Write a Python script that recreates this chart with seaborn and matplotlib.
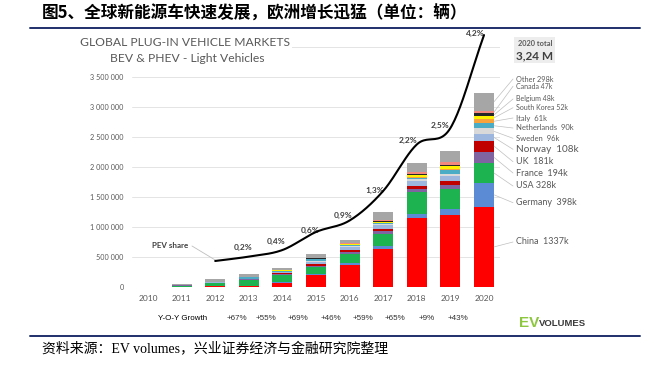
import numpy as np
import matplotlib
matplotlib.use('Agg')
import matplotlib.pyplot as plt
import seaborn as sns

# data (thousand vehicles), 2010 .. 2020
years = [str(y) for y in range(2010, 2021)]
countries = ['China', 'Germany', 'USA', 'France', 'UK', 'Norway', 'Sweden',
             'Netherlands', 'Italy', 'South Korea', 'Belgium', 'Canada', 'Other']
china = [1, 5, 10, 15, 72, 195, 370, 640, 1155, 1195, 1337]
germany = [1, 2, 3, 6, 13, 23, 25, 50, 70, 108, 398]
usa = [1, 18, 53, 97, 119, 116, 160, 200, 360, 327, 328]
france = [0, 3, 6, 9, 15, 22, 29, 37, 46, 67, 194]
uk = [0, 1, 2, 4, 15, 28, 37, 47, 60, 73, 181]
norway = [0, 2, 4, 8, 20, 34, 45, 62, 73, 80, 108]
sweden = [0, 0, 1, 1, 4, 9, 14, 20, 30, 40, 96]
netherlands = [0, 1, 5, 23, 15, 43, 25, 11, 28, 67, 90]
italy = [0, 0, 0, 1, 2, 2, 2, 5, 10, 17, 61]
south_korea = [0, 0, 0, 1, 1, 3, 6, 14, 32, 35, 52]
belgium = [0, 0, 0, 1, 2, 3, 5, 9, 13, 18, 48]
canada = [0, 1, 2, 3, 5, 7, 12, 16, 44, 51, 47]
other = [2, 20, 40, 41, 42, 60, 60, 135, 150, 190, 298]

series = [china, germany, usa, france, uk, norway, sweden,
          netherlands, italy, south_korea, belgium, canada, other]
legend_labels = ['China  1337k', 'Germany  398k', 'USA 328k', 'France  194k',
                 'UK  181k', 'Norway  108k', 'Sweden  96k', 'Netherlands  90k',
                 'Italy  61k', 'South Korea 52k', 'Belgium 48k', 'Canada 47k',
                 'Other 298k']

# PEV market share (%), 2012 .. 2020
share_years = years[2:]
pev_share = [0.07, 0.15, 0.27, 0.6, 0.81, 1.35, 2.2, 2.5, 4.2]
share_labels = ['0,2%', '0,4%', '0,6%', '0,9%', '1,3%', '2,2%', '2,5%', '4,2%']

growth_labels = ['+67%', '+55%', '+69%', '+46%', '+59%', '+65%', '+9%', '+43%']

colors = ['#FF0000', '#5B8BD5', '#1DB350', '#8064A2', '#C00000', '#9DB6DE',
          '#D9D9D9', '#4BACC6', '#F7A23B', '#FFF200', '#262626', '#F4877E',
          '#A6A6A6']

sns.set_style('white')
plt.rcParams['font.family'] = ['Lato', 'DejaVu Sans']

W, H = 657, 369
fig = plt.figure(figsize=(W / 100, H / 100), dpi=100)
ax = fig.add_axes([132 / W, 1 - 287 / H, 368 / W, 240 / H])

def px_x(px):
    return (px - 148) / 33.6

def px_y(py):
    return (287 - py) / 60 * 1e6

# stacked bars: draw cumulative totals from top layer down
vals = np.array(series, dtype=float) * 1000
cum = np.cumsum(vals, axis=0)
for i in range(len(countries) - 1, -1, -1):
    sns.barplot(x=years, y=cum[i], color=colors[i], width=0.6, saturation=1,
                errorbar=None, linewidth=0, ax=ax, zorder=2)

ax.set_xlim(-0.476, 10.476)
ax.set_ylim(0, 4e6)
ticks = np.arange(0, 4.01e6, 5e5)
ax.set_yticks(ticks)
ax.set_yticklabels([f'{int(t):,}'.replace(',', ' ') if t < 4e6 else '' for t in ticks],
                   fontsize=5.2, color='#595959')
ax.set_xticks(range(len(years)))
ax.set_xticklabels(years, fontsize=6, color='#595959')
ax.tick_params(axis='y', length=0, pad=6)
ax.tick_params(axis='x', length=0, pad=6)
ax.grid(axis='y', color='#E4E4E4', lw=0.7)
ax.set_axisbelow(True)
ax.set_xlabel('')
ax.set_ylabel('')
sns.despine(ax=ax, left=True, bottom=True)

# legend labels with leader lines at the 2020 bar
label_y = [242, 202.7, 186, 173, 161.7, 149.3, 138.3, 128, 118, 107.7, 99, 86.3, 79]
label_fs = [6.5, 6.5, 6.5, 6.5, 6.5, 7.2, 5.5, 5.5, 5.5, 5.0, 5.0, 5.0, 5.3]
last = len(years) - 1
for i in range(len(countries)):
    mid = cum[i, last] - vals[i, last] / 2
    ax.plot([last + 0.3, px_x(513)], [mid, px_y(label_y[i])], color='#BFBFBF',
            lw=0.5, clip_on=False, zorder=3)
    ax.text(px_x(516), px_y(label_y[i]), legend_labels[i], fontsize=label_fs[i],
            color='#595959', ha='left', va='center', clip_on=False)

# PEV share line on a secondary scale
ax2 = ax.twinx()
xs = np.arange(2, len(years), dtype=float)
ys = np.array(pev_share)
# smoothed drawing through the points (Catmull-Rom)
px = np.concatenate([[2 * xs[0] - xs[1]], xs, [2 * xs[-1] - xs[-2]]])
py = np.concatenate([[2 * ys[0] - ys[1]], ys, [2 * ys[-1] - ys[-2]]])
cx, cy = [], []
t = np.linspace(0, 1, 25)
for k in range(1, len(px) - 2):
    for arr, out in ((px, cx), (py, cy)):
        p0, p1, p2, p3 = arr[k - 1], arr[k], arr[k + 1], arr[k + 2]
        out.extend(0.5 * (2 * p1 + (-p0 + p2) * t + (2 * p0 - 5 * p1 + 4 * p2 - p3) * t ** 2
                          + (-p0 + 3 * p1 - 3 * p2 + p3) * t ** 3))
ax2.plot(cx, cy, color='black', lw=1.5, clip_on=False, zorder=5)
ax2.set_ylim((264.8 - 287) / 54.7, (264.8 - 47) / 54.7)
ax2.set_yticks([])
sns.despine(ax=ax2, left=True, bottom=True, right=True)

share_pos = [(243, 247), (276, 241), (310, 230), (343, 215), (375, 190),
             (408, 140), (440, 125), (475, 33)]
for lab, (sx, sy) in zip(share_labels, share_pos):
    ax.text(px_x(sx), px_y(sy), lab, fontsize=6, fontweight='bold', color='#404040',
            ha='center', va='center', clip_on=False, zorder=6)

ax.text(px_x(170), px_y(245), 'PEV share', fontsize=5.8, fontweight='bold',
        color='#404040', ha='center', va='center')
ax.plot([px_x(192), px_x(216)], [px_y(246), px_y(260.5)], color='#BFBFBF', lw=0.6)

# chart headings
fig.text(185 / W, 1 - 43 / H, 'GLOBAL PLUG-IN VEHICLE MARKETS', fontsize=8.7,
         color='#595959', ha='center', va='center',
         bbox=dict(facecolor='white', edgecolor='none', pad=1.5))
fig.text(187 / W, 1 - 58 / H, 'BEV & PHEV - Light Vehicles', fontsize=8.7,
         color='#595959', ha='center', va='center')

# 2020 total box
fig.patches.append(plt.Rectangle((514 / W, 1 - 63 / H), 41 / W, 26 / H,
                                 transform=fig.transFigure, facecolor='#EDEDED',
                                 edgecolor='none'))
fig.text(535 / W, 1 - 44 / H, '2020 total', fontsize=5.3, fontweight='bold',
         color='#595959', ha='center', va='center')
fig.text(535 / W, 1 - 56 / H, '3,24 M', fontsize=8.5, fontweight='bold',
         color='#404040', ha='center', va='center')

# Y-O-Y growth row
fig.text(183 / W, 1 - 318 / H, 'Y-O-Y Growth', fontsize=5.8, color='black',
         family=['Liberation Sans'], ha='center', va='center')
growth_x = [237, 266, 298, 331, 363, 395, 427, 458]
for g, gx in zip(growth_labels, growth_x):
    fig.text(gx / W, 1 - 318 / H, g, fontsize=5.8, color='#333333',
             family=['Liberation Sans'], ha='center', va='center')

fig.text(519 / W, 1 - 323 / H, 'EV', fontsize=11, fontweight='bold', color='#8DC63F',
         family=['Liberation Sans'], ha='left', va='center')
fig.text(539 / W, 1 - 324 / H, 'VOLUMES', fontsize=6.8, fontweight='bold',
         color='#3A3A3A', family=['Liberation Sans'], ha='left', va='center')

# report title, rules and source
fig.text(42 / W, 1 - 14 / H, '图5、全球新能源车快速发展，欧洲增长迅猛（单位：辆）',
         fontsize=12, fontweight='bold', color='black',
         family=['Noto Sans CJK SC', 'DejaVu Sans'], ha='left', va='center')
fig.add_artist(plt.Line2D([30 / W, 640 / W], [1 - 28 / H, 1 - 28 / H],
                          color='#1F2F6B', lw=1.4))
fig.add_artist(plt.Line2D([30 / W, 640 / W], [1 - 336 / H, 1 - 336 / H],
                          color='#1F2F6B', lw=1.4))
fig.text(42 / W, 1 - 349 / H, '资料来源：EV volumes，兴业证券经济与金融研究院整理',
         fontsize=10, color='black',
         family=['Liberation Serif', 'Noto Sans CJK SC'], ha='left', va='center')

fig.savefig('out.png', dpi=100)
